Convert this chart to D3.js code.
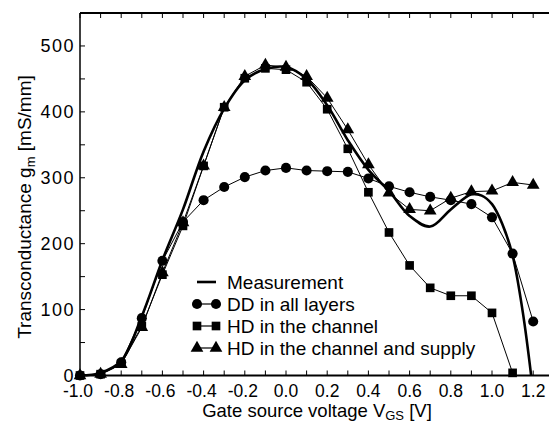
<!DOCTYPE html>
<html lang="en">
<head>
  <meta charset="UTF-8">
  <title>Transconductance</title>
  <script src="https://d3js.org/d3.v7.min.js"></script>
  <style>
    body { margin: 0; background: #fff; }
    svg text { font-family: 'Liberation Sans', Arial, sans-serif; fill: #000; }
  </style>
</head>
<body>
  <div class="chart"></div>
  <script>
    // gate voltage steps for simulated series
    const vgs = [-1.0, -0.9, -0.8, -0.7, -0.6, -0.5, -0.4, -0.3, -0.2, -0.1, 0.0,
                 0.1, 0.2, 0.3, 0.4, 0.5, 0.6, 0.7, 0.8, 0.9, 1.0, 1.1, 1.2];
    const ddAll = [0, 2, 20, 87, 174, 233, 266, 286, 301, 311, 315,
                   311, 310, 309, 299, 287, 278, 271, 266, 260, 240, 185, 82];
    const hdChannel = [0, 2, 18, 75, 153, 227, 318, 407, 451, 466, 464,
                       445, 404, 344, 278, 217, 167, 133, 121, 121, 95, 4];
    const hdSupply = [0, 2, 17, 73, 156, 232, 318, 407, 454, 471, 468,
                      454, 421, 373, 320, 277, 252, 250, 269, 279, 280, 293, 289];
    // measured curve
    const measV = [-1.0, -0.9, -0.8, -0.7, -0.6, -0.5, -0.4, -0.3, -0.2, -0.1, 0.0,
                   0.1, 0.2, 0.3, 0.4, 0.5, 0.6, 0.7, 0.8, 0.9, 0.95, 1.0, 1.05, 1.1, 1.15, 1.19];
    const measG = [0, 4, 22, 90, 175, 252, 340, 405, 448, 465, 468,
                   450, 410, 357, 312, 280, 242, 226, 252, 275, 273, 260, 230, 182, 95, 0];

    const xTickLabels = [-1.0, -0.8, -0.6, -0.4, -0.2, 0.0, 0.2, 0.4, 0.6, 0.8, 1.0, 1.2];
    const yTickLabels = [0, 100, 200, 300, 400, 500];
    const legendNames = ['Measurement', 'DD in all layers', 'HD in the channel', 'HD in the channel and supply'];

    const W = 549, H = 421;
    const svg = d3.select('.chart').append('svg').attr('width', W).attr('height', H);

    const x = d3.scaleLinear().domain([-1.0, 1.3]).range([80, 553.8]);
    const y = d3.scaleLinear().domain([0, 550]).range([375.5, 13]);

    // frame lines
    const frame = svg.append('g').attr('stroke', '#000').attr('fill', 'none');
    frame.append('line').attr('x1', x(-1.0)).attr('x2', W).attr('y1', y(0)).attr('y2', y(0)).attr('stroke-width', 2);
    frame.append('line').attr('x1', x(-1.0)).attr('x2', W).attr('y1', y(550)).attr('y2', y(550)).attr('stroke-width', 2);
    frame.append('line').attr('x1', x(-1.0)).attr('x2', x(-1.0)).attr('y1', y(0)).attr('y2', y(550)).attr('stroke-width', 1.5);

    // inside ticks
    const xt = d3.range(-10, 14).map(d => d / 10);
    frame.selectAll('.xb').data(xt).join('line')
      .attr('x1', d => x(d)).attr('x2', d => x(d)).attr('y1', y(0)).attr('y2', y(0) - 5).attr('stroke-width', 1);
    frame.selectAll('.xt').data(xt).join('line')
      .attr('x1', d => x(d)).attr('x2', d => x(d)).attr('y1', y(550)).attr('y2', y(550) + 5).attr('stroke-width', 1);
    const yt = d3.range(0, 551, 50);
    frame.selectAll('.yl').data(yt).join('line')
      .attr('x1', x(-1.0)).attr('x2', x(-1.0) + 5).attr('y1', d => y(d)).attr('y2', d => y(d)).attr('stroke-width', 1);

    // tick labels
    svg.append('g').selectAll('text').data(xTickLabels).join('text')
      .attr('x', d => x(d) - (d < 0 ? 2 : 0)).attr('y', 397).attr('text-anchor', 'middle')
      .attr('font-size', 17.5)
      .text(d => d.toFixed(1));
    svg.append('g').selectAll('text').data(yTickLabels).join('text')
      .attr('x', 75).attr('y', d => y(d)).attr('dy', '0.36em').attr('text-anchor', 'end')
      .attr('font-size', 18).attr('letter-spacing', 1.5)
      .text(d => d);

    // axis titles
    const xl = svg.append('text').attr('x', 317).attr('y', 417).attr('text-anchor', 'middle').attr('font-size', 18.5);
    xl.append('tspan').text('Gate source voltage V');
    xl.append('tspan').attr('font-size', 13).attr('dy', 2.5).text('GS');
    xl.append('tspan').attr('dy', -2.5).text(' [V]');

    const yl = svg.append('text').attr('transform', 'translate(31,207) rotate(-90)')
      .attr('text-anchor', 'middle').attr('font-size', 19);
    yl.append('tspan').text('Transconductance g');
    yl.append('tspan').attr('font-size', 13).attr('dy', 4).text('m');
    yl.append('tspan').attr('dy', -4).text(' [mS/mm]');

    // series
    const plot = svg.append('g');
    const line = d3.line().x(d => x(d[0])).y(d => y(d[1]));
    const sym = {
      circle: d3.symbol().type(d3.symbolCircle).size(80),
      square: d3.symbol().type(d3.symbolSquare).size(75),
      triangle: d3.symbol().type(d3.symbolTriangle).size(70)
    };
    const series = [
      { vals: hdSupply, s: 'triangle' },
      { vals: hdChannel, s: 'square' },
      { vals: ddAll, s: 'circle' }
    ];
    series.forEach(se => {
      const pts = se.vals.map((v, i) => [vgs[i], v]);
      plot.append('path').datum(pts).attr('d', line).attr('fill', 'none').attr('stroke', '#000').attr('stroke-width', 1);
      plot.selectAll(null).data(pts).join('path')
        .attr('transform', d => `translate(${x(d[0])},${y(d[1])})`)
        .attr('d', sym[se.s]()).attr('fill', '#000');
    });

    const measPts = measV.map((v, i) => [v, measG[i]]);
    plot.append('path').datum(measPts)
      .attr('d', d3.line().x(d => x(d[0])).y(d => y(d[1])).curve(d3.curveCatmullRom.alpha(0.5)))
      .attr('fill', 'none').attr('stroke', '#000').attr('stroke-width', 2.6);

    // legend
    const leg = svg.append('g');
    const rows = [282, 304, 326, 348];
    const legSym = [null, 'circle', 'square', 'triangle'];
    legendNames.forEach((name, i) => {
      const ry = rows[i];
      leg.append('line').attr('x1', 197).attr('x2', 216).attr('y1', ry).attr('y2', ry)
        .attr('stroke', '#000').attr('stroke-width', i === 0 ? 2.6 : 1.2);
      if (legSym[i]) {
        [197, 216].forEach(px => {
          leg.append('path').attr('transform', `translate(${px},${ry})`).attr('d', sym[legSym[i]]()).attr('fill', '#000');
        });
      }
      leg.append('text').attr('x', 227).attr('y', ry).attr('dy', '0.36em').attr('font-size', 19).text(name);
    });
  </script>
</body>
</html>
